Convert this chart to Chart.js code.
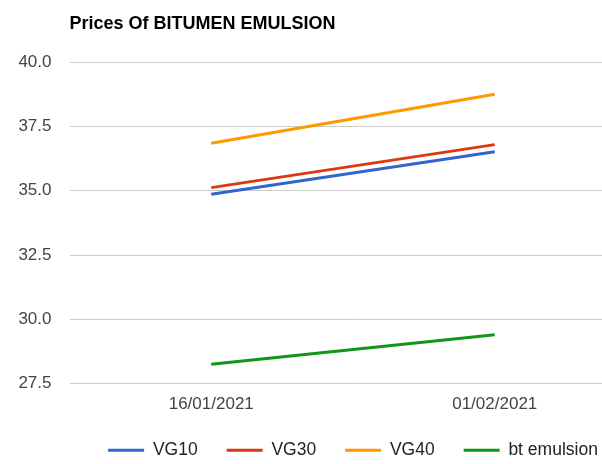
<!DOCTYPE html>
<html lang="en">
<head>
    <meta charset="UTF-8">
    <title>Prices Of BITUMEN EMULSION</title>
    <style>
        html, body { margin: 0; padding: 0; overflow: hidden; background: #fff; }
        canvas { display: block; }
    </style>
</head>
<body>

<canvas id="micanvas" width="640" height="464"></canvas>
<script src="https://cdn.jsdelivr.net/npm/chart.js@4.4.0/dist/chart.umd.min.js"></script>
<script>
    // values
    const dates = ['16/01/2021', '01/02/2021'];
    const vg10 = [34.86, 36.51];
    const vg30 = [35.12, 36.79];
    const vg40 = [36.84, 38.75];
    const btEmulsion = [28.26, 29.40];

    const font = 'Arial, "Liberation Sans", sans-serif';

    var ctx = document.getElementById('micanvas').getContext('2d');
    var chart = new Chart(ctx, {
        type: 'line',
        data: {
            labels: dates,
            datasets: [
                { label: 'VG10', data: vg10, borderColor: '#3366cc', backgroundColor: '#3366cc' },
                { label: 'VG30', data: vg30, borderColor: '#dc3912', backgroundColor: '#dc3912' },
                { label: 'VG40', data: vg40, borderColor: '#ff9900', backgroundColor: '#ff9900' },
                { label: 'bt emulsion', data: btEmulsion, borderColor: '#109618', backgroundColor: '#109618' }
            ]
        },
        options: {
            responsive: false,
            animation: false,
            layout: { padding: { left: 0, right: 3.5, top: 0, bottom: -4.9 } },
            elements: {
                line: { borderWidth: 3, tension: 0 },
                point: { radius: 0, hoverRadius: 0 }
            },
            scales: {
                x: {
                    offset: true,
                    grid: { display: false, drawTicks: false },
                    border: { display: false },
                    ticks: {
                        color: '#444',
                        font: { family: font, size: 17, lineHeight: 0.9 },
                        padding: 13.35,
                        maxRotation: 0
                    },
                    // padding is counted twice by chart.js, keep the box tight
                    afterFit: function (s) { s.height = 28.65; }
                },
                y: {
                    min: 27.5,
                    max: 40,
                    ticks: {
                        stepSize: 2.5,
                        color: '#444',
                        font: { family: font, size: 17 },
                        padding: 18,
                        callback: v => v.toFixed(1)
                    },
                    grid: { color: '#cccccc', drawTicks: false, lineWidth: 1 },
                    border: { display: false },
                    afterFit: function (s) { s.width = 69.5; }
                }
            },
            plugins: {
                title: {
                    display: true,
                    text: 'Prices Of BITUMEN EMULSION',
                    align: 'start',
                    fullSize: false,
                    color: '#000',
                    font: { family: font, size: 18, weight: 'bold' },
                    padding: { top: 13.2, bottom: 27.2 }
                },
                legend: {
                    position: 'bottom',
                    fullSize: false,
                    labels: {
                        color: '#222',
                        font: { family: font, size: 17.5 },
                        boxWidth: 36,
                        boxHeight: 3,
                        padding: 29,
                        generateLabels: function (c) {
                            return Chart.defaults.plugins.legend.labels.generateLabels(c)
                                .map(item => Object.assign(item, { lineWidth: 0 }));
                        }
                    }
                },
                tooltip: { enabled: false }
            }
        }
    });
</script>
</body>
</html>
